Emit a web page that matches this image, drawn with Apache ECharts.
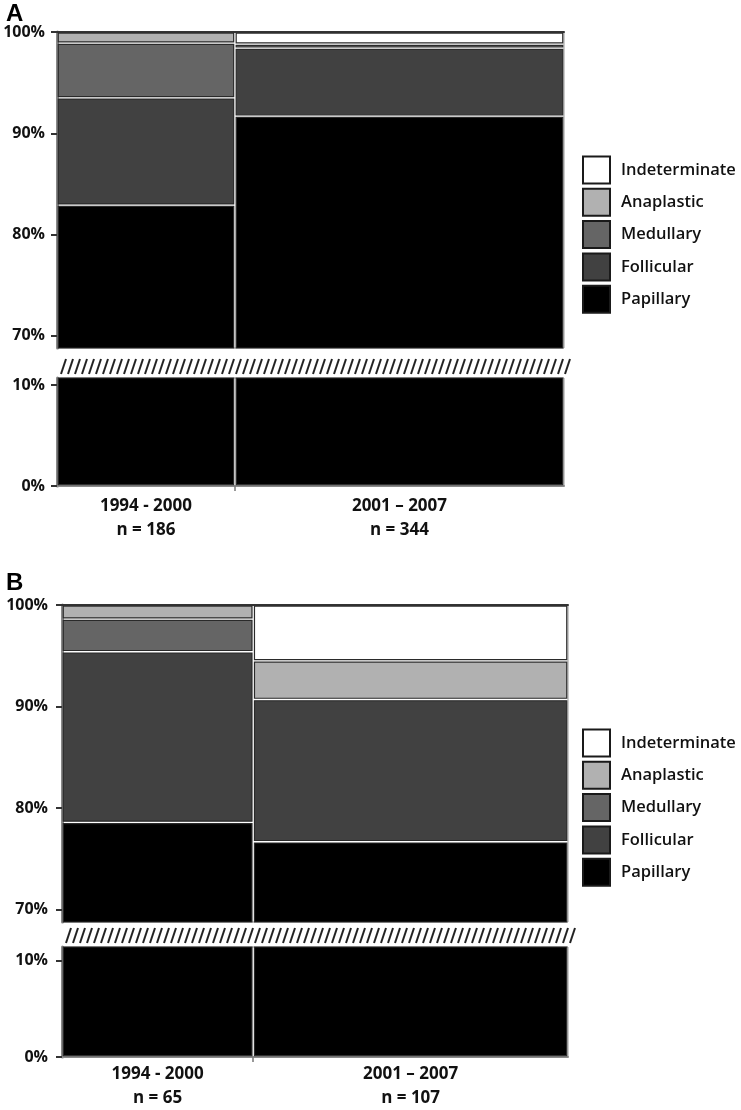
<!DOCTYPE html>
<html>
<head>
<meta charset="utf-8">
<style>
  html, body { margin: 0; padding: 0; background: #fff; }
  #chart { width: 741px; height: 1110px; }
</style>
<script src="https://cdn.jsdelivr.net/npm/echarts@6/dist/echarts.min.js"></script>
</head>
<body>
<div id="chart"></div>
<script>
// ---------- data ----------
const periods = ['1994 - 2000', '2001 \u2013 2007'];
const nA = [186, 344];
const nB = [65, 107];
const types = ['Papillary', 'Follicular', 'Medullary', 'Anaplastic', 'Indeterminate'];
const legendOrder = ['Indeterminate', 'Anaplastic', 'Medullary', 'Follicular', 'Papillary'];

// percentages per period (panel A)
const papillaryA = [82.9, 91.7];
const follicularA = [10.6, 6.7];
const medullaryA = [5.4, 0];
const anaplasticA = [1.1, 0.4];
const indeterminateA = [0, 1.2];

// percentages per period (panel B)
const papillaryB = [78.6, 76.7];
const follicularB = [16.8, 14.0];
const medullaryB = [3.2, 0];
const anaplasticB = [1.4, 3.8];
const indeterminateB = [0, 5.5];

const yTicksUpper = [70, 80, 90, 100];
const yTicksLower = [0, 10];

// ---------- styles ----------
const typeColors = {
  Papillary: '#000000',
  Follicular: '#414141',
  Medullary: '#656565',
  Anaplastic: '#b1b1b1',
  Indeterminate: '#ffffff'
};
const FONT = "'Open Sans', 'DejaVu Sans', sans-serif";
const TEXT = '#111111';

const panels = [
  {
    key: 'A', n: nA,
    values: [papillaryA, follicularA, medullaryA, anaplasticA, indeterminateA],
    left: 57, right: 177,
    upperTop: 32, upperHeight: 316, upperMin: 68.8,
    lowerTop: 378, lowerHeight: 108, lowerMax: 10.7,
    legendTop: 150.5, titleTop: -3, xLabelMargin: 8, yLabelMargin: 12
  },
  {
    key: 'B', n: nB,
    values: [papillaryB, follicularB, medullaryB, anaplasticB, indeterminateB],
    left: 62, right: 173,
    upperTop: 605, upperHeight: 317, upperMin: 68.8,
    lowerTop: 947, lowerHeight: 116, lowerMax: 11.4,
    legendTop: 723.5, titleTop: 566, xLabelMargin: 5, yLabelMargin: 14
  }
];

const INSET = 1.25;

function renderBlock(params, api) {
  const x0 = api.value(0), x1 = api.value(1), y0 = api.value(2), y1 = api.value(3);
  const p0 = api.coord([x0, y1]);
  const p1 = api.coord([x1, y0]);
  const rect = {
    x: p0[0] + INSET,
    y: p0[1] + INSET,
    width: p1[0] - p0[0] - 2 * INSET,
    height: p1[1] - p0[1] - 2 * INSET
  };
  if (rect.width <= 0 || rect.height <= 0) return null;
  const cs = params.coordSys;
  const clipped = echarts.graphic.clipRectByRect(rect, {
    x: cs.x, y: cs.y, width: cs.width, height: cs.height
  });
  if (!clipped) return null;
  return {
    type: 'rect',
    shape: clipped,
    style: { fill: api.visual('color'), stroke: '#2a2a2a', lineWidth: 1.2 }
  };
}

function renderHatch(params, api) {
  const cs = params.coordSys;
  const yBot = cs.y - 4;
  const yTop = cs.y - 19;
  const children = [];
  for (let x = cs.x + 4; x + 5 <= cs.x + cs.width + 8; x += 7) {
    children.push({
      type: 'line',
      shape: { x1: x, y1: yBot, x2: x + 5, y2: yTop },
      style: { stroke: '#222', lineWidth: 2 }
    });
  }
  return { type: 'group', children };
}

const grid = [], xAxis = [], yAxis = [], series = [], legend = [], title = [];

panels.forEach((p, pi) => {
  const gU = pi * 2, gL = pi * 2 + 1;
  const total = p.n.reduce((a, b) => a + b, 0);
  const cum = [];
  let acc = 0;
  p.n.forEach(v => { cum.push(acc); acc += v; });
  const centers = p.n.map((v, i) => cum[i] + v / 2);
  const boundaries = cum.slice(1);

  grid.push(
    { left: p.left, right: p.right, top: p.upperTop, height: p.upperHeight,
      show: true, borderColor: '#9a9a9a', borderWidth: 1, backgroundColor: 'transparent' },
    { left: p.left, right: p.right, top: p.lowerTop, height: p.lowerHeight,
      show: true, borderColor: '#9a9a9a', borderWidth: 1, backgroundColor: 'transparent' }
  );

  xAxis.push(
    { type: 'value', gridIndex: gU, min: 0, max: total, position: 'top',
      axisLine: { show: true, lineStyle: { color: '#333', width: 2 } },
      axisTick: { show: false }, axisLabel: { show: false }, splitLine: { show: false } },
    { type: 'value', gridIndex: gL, min: 0, max: total, position: 'bottom',
      axisLine: { show: true, lineStyle: { color: '#8a8a8a', width: 2 } },
      axisTick: { show: true, customValues: boundaries, length: 5,
        lineStyle: { color: '#777', width: 1.5 } },
      axisLabel: {
        show: true, customValues: centers, margin: p.xLabelMargin,
        fontFamily: FONT, fontSize: 17, fontWeight: 700, color: TEXT, lineHeight: 24,
        formatter: function (v) {
          let idx = 0, best = Infinity;
          centers.forEach((c, i) => { const d = Math.abs(c - v); if (d < best) { best = d; idx = i; } });
          return periods[idx] + '\n' + 'n = ' + p.n[idx];
        }
      },
      splitLine: { show: false } }
  );

  const yCommon = {
    type: 'value',
    axisLine: { show: true, lineStyle: { color: '#8a8a8a', width: 3 } },
    splitLine: { show: false }
  };
  yAxis.push(
    Object.assign({}, yCommon, {
      gridIndex: gU, min: p.upperMin, max: 100,
      axisTick: { show: true, customValues: yTicksUpper, length: 6, lineStyle: { color: '#333', width: 2 } },
      axisLabel: { show: true, customValues: yTicksUpper, formatter: '{value}%', margin: p.yLabelMargin,
        fontFamily: FONT, fontSize: 16, fontWeight: 700, color: TEXT }
    }),
    Object.assign({}, yCommon, {
      gridIndex: gL, min: 0, max: p.lowerMax,
      axisTick: { show: true, customValues: yTicksLower, length: 6, lineStyle: { color: '#333', width: 2 } },
      axisLabel: { show: true, customValues: yTicksLower, formatter: '{value}%', margin: p.yLabelMargin,
        fontFamily: FONT, fontSize: 16, fontWeight: 700, color: TEXT }
    })
  );

  types.forEach((t, ti) => {
    const items = [];
    p.n.forEach((nv, i) => {
      let base = 0;
      for (let k = 0; k < ti; k++) base += p.values[k][i];
      const v = p.values[ti][i];
      if (v > 0) items.push([cum[i], cum[i] + nv, base, base + v]);
    });
    [gU, gL].forEach(g => {
      series.push({
        type: 'custom', name: t,
        xAxisIndex: g, yAxisIndex: g,
        itemStyle: { color: typeColors[t], borderColor: '#1a1a1a', borderWidth: 2 },
        encode: { x: [0, 1], y: [2, 3] },
        data: items,
        renderItem: renderBlock,
        animation: false
      });
    });
  });

  series.push({
    type: 'custom', name: 'break' + p.key,
    xAxisIndex: gL, yAxisIndex: gL,
    clip: false, silent: true,
    data: [[0, 0]],
    encode: { x: 0, y: 1 },
    renderItem: renderHatch,
    animation: false
  });

  legend.push({
    orient: 'vertical', left: 577, top: p.legendTop,
    data: legendOrder,
    icon: 'rect', itemWidth: 27, itemHeight: 27, itemGap: 3.3,
    itemStyle: { borderColor: '#1a1a1a', borderWidth: 2 },
    selectedMode: false,
    textStyle: { fontFamily: FONT, fontSize: 16.5, fontWeight: 600, color: TEXT, padding: [0, 0, 0, 6] }
  });

  title.push({
    text: p.key, left: 1, top: p.titleTop,
    textStyle: { fontFamily: "'Liberation Sans', Arial, sans-serif", fontSize: 24, fontWeight: 'bold', color: '#000' }
  });
});

const chart = echarts.init(document.getElementById('chart'), null, { renderer: 'canvas' });
chart.setOption({
  backgroundColor: '#ffffff',
  animation: false,
  title, legend, grid, xAxis, yAxis, series
});
</script>
</body>
</html>
